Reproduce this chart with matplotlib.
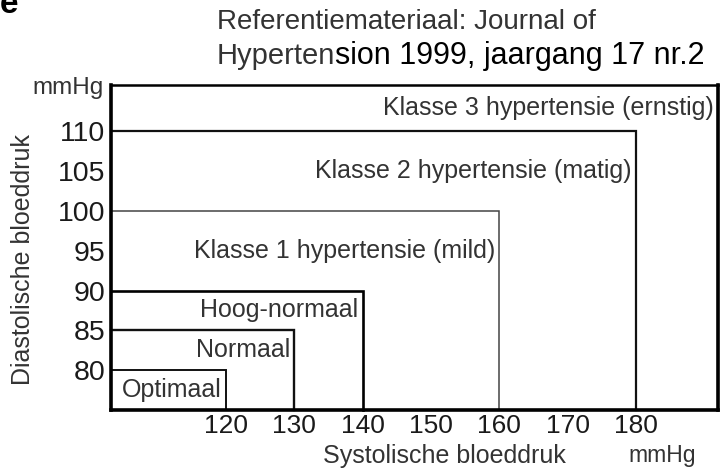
import matplotlib
matplotlib.use("Agg")
import matplotlib.pyplot as plt

# ============================================
# DATA: blood pressure classes (mmHg)
# ============================================
sys_limits = [120, 130, 140, 160, 180]          # upper systolic limit per class
dia_limits = [80, 85, 90, 100, 110]             # upper diastolic limit per class
class_names = ["Optimaal", "Normaal", "Hoog-normaal",
               "Klasse 1 hypertensie (mild)",
               "Klasse 2 hypertensie (matig)",
               "Klasse 3 hypertensie (ernstig)"]
x_ticks = [120, 130, 140, 150, 160, 170, 180]
y_ticks = [80, 85, 90, 95, 100, 105, 110]

X_MIN, X_MAX = 103.2, 192.0
Y_MIN, Y_MAX = 75.0, 115.8

plt.rcParams["font.family"] = ["Liberation Sans", "DejaVu Sans"]

fig = plt.figure(figsize=(7.28, 4.70), dpi=100)
ax = fig.add_axes([0.1525, 0.1277, 0.8338, 0.6914])
ax.set_xlim(X_MIN, X_MAX)
ax.set_ylim(Y_MIN, Y_MAX)

# frame
for side in ["left", "bottom", "right"]:
    ax.spines[side].set_linewidth(2.6)
ax.spines["top"].set_linewidth(1.8)

# class boundaries (nested boxes from the lower-left corner)
line_w = [1.4, 1.7, 1.9, 1.1, 1.6]
line_c = ["#111111", "#111111", "#000000", "#444444", "#111111"]
for sx, dy, lw, c in zip(sys_limits, dia_limits, line_w, line_c):
    ax.plot([X_MIN, sx, sx], [dy, dy, Y_MIN], color=c, lw=lw,
            solid_joinstyle="miter", clip_on=False)

# class labels, centred in each band, right-aligned to the box edge
lowers = [Y_MIN] + dia_limits
uppers = dia_limits + [Y_MAX]
rights = sys_limits + [X_MAX]
for name, lo, hi, xr in zip(class_names, lowers, uppers, rights):
    ax.annotate(name, xy=(xr, (lo + hi) / 2), xytext=(-3, 0),
                textcoords="offset points", ha="right", va="center",
                fontsize=18, color="#333333")

ax.set_xticks(x_ticks)
ax.set_yticks(y_ticks)
ax.tick_params(length=0, colors="#1a1a1a")
ax.tick_params(axis="y", pad=4, labelsize=20.5)
ax.tick_params(axis="x", pad=3, labelsize=19)

# axis titles and units
ax.text(-0.012, 0.99, "mmHg", transform=ax.transAxes, ha="right", va="center",
        fontsize=17.5, color="#333333")
fig.text(0.031, 0.447, "Diastolische bloeddruk", rotation=90, ha="center",
         va="center", fontsize=18, color="#333333")
fig.text(0.61, 0.030, "Systolische bloeddruk", ha="center", va="center",
         fontsize=18, color="#333333")
fig.text(0.909, 0.030, "mmHg", ha="center", va="center", fontsize=16.5,
         color="#333333")

# reference note
fig.text(0.298, 0.953, "Referentiemateriaal: Journal of", ha="left",
         va="center", fontsize=20, color="#333333")
t1 = fig.text(0.298, 0.880, "Hyperten", ha="left", va="center",
              fontsize=21, color="#333333")
ax.annotate("sion 1999, jaargang 17 nr.2", xy=(1, 0.5), xycoords=t1,
            ha="left", va="center", fontsize=22, color="#000000",
            annotation_clip=False)

fig.text(0.0, 0.99, "e", ha="left", va="center", fontsize=24,
         fontweight="bold", color="#000000")

fig.savefig("out.png", dpi=100)
